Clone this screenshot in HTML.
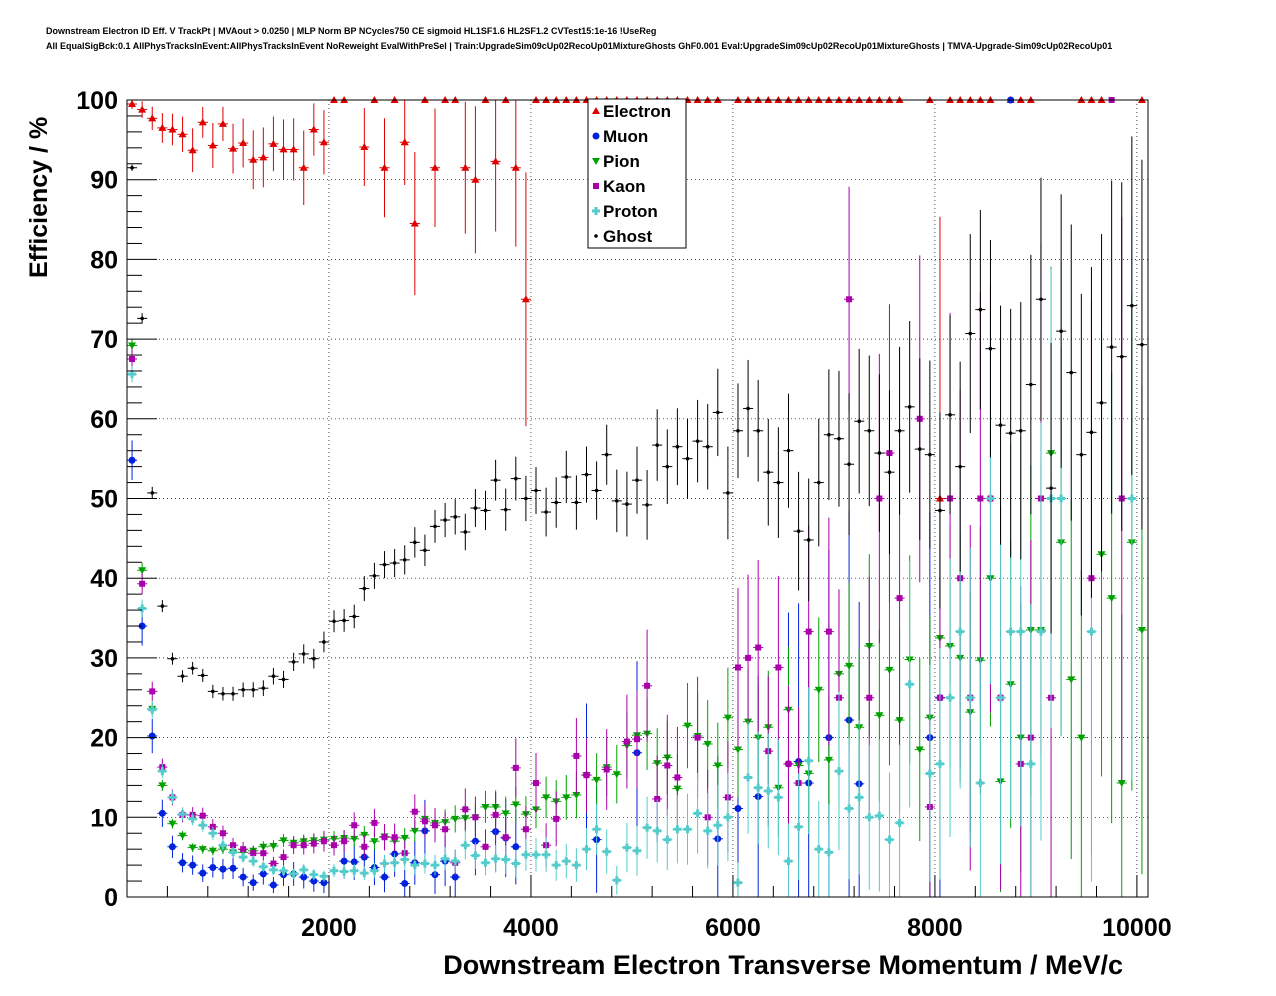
<!DOCTYPE html>
<html><head><meta charset="utf-8"><style>
html,body{margin:0;padding:0;background:#fff}
svg{display:block;font-family:"Liberation Sans",Arial,sans-serif}
</style></head><body>
<svg id="chart" width="1276" height="996" viewBox="0 0 1276 996" xmlns="http://www.w3.org/2000/svg">
<rect x="0" y="0" width="1276" height="996" fill="#fff"/>
<text x="46" y="34" font-size="9" font-weight="bold">Downstream Electron ID Eff. V TrackPt | MVAout &gt; 0.0250 | MLP Norm BP NCycles750 CE sigmoid HL1SF1.6 HL2SF1.2 CVTest15:1e-16 !UseReg</text>
<text x="46" y="49" font-size="9" font-weight="bold">All EqualSigBck:0.1 AllPhysTracksInEvent:AllPhysTracksInEvent NoReweight EvalWithPreSel | Train:UpgradeSim09cUp02RecoUp01MixtureGhosts GhF0.001 Eval:UpgradeSim09cUp02RecoUp01MixtureGhosts | TMVA-Upgrade-Sim09cUp02RecoUp01</text>
<g id="grid"></g>
<g id="marks"></g>
<rect x="127" y="100" width="1021" height="797" fill="none" stroke="#000" stroke-width="1"/>
<g id="axes"></g>
<text transform="translate(47,278) rotate(-90)" font-size="25" font-weight="bold" text-anchor="start">Efficiency / %</text>
<text x="1123" y="974" font-size="27" font-weight="bold" text-anchor="end">Downstream Electron Transverse Momentum / MeV/c</text>
<g id="legend"></g>
</svg>
<script>
const N=null;
const xTicks=[2000,4000,6000,8000,10000];
const yTicks=[0,10,20,30,40,50,60,70,80,90,100];
const seriesNames=["Electron","Muon","Pion","Kaon","Proton","Ghost"];
const electron=[99.5,98.8,97.7,96.5,96.3,95.7,93.7,97.2,94.3,97.0,93.9,94.6,92.5,92.8,94.5,93.8,93.8,91.5,96.3,94.7,100,100,N,94.1,100,91.5,100,94.7,84.5,100,91.5,100,100,91.5,90,100,92.3,100,91.5,75,100,100,100,100,100,100,100,100,100,100,100,100,100,100,100,100,100,100,100,N,100,100,100,100,100,100,100,100,100,100,100,100,100,100,100,100,100,N,N,100,50,100,100,100,100,100,N,100,100,100,N,N,N,N,100,100,100,N,N,N,100];
const muon=[54.8,34.0,20.2,10.5,6.3,4.3,4.0,3.0,3.7,3.5,3.6,2.5,1.8,2.9,1.5,2.8,2.9,2.5,2.0,1.8,N,4.5,4.4,5.0,3.7,2.5,5.4,1.7,4.3,8.3,2.8,4.5,2.5,N,7.0,N,8.2,7.4,6.3,N,N,N,N,N,N,15.3,7.2,N,N,N,18.1,N,N,N,N,N,N,N,7.3,N,11.1,N,12.6,N,N,16.7,17.0,14.3,N,20.0,N,22.2,14.2,N,N,N,N,N,N,20.0,25.0,N,N,N,N,N,N,100,N,N,N,N,N,N,N,N,N,N,N,N,N];
const pion=[69.2,41.0,23.6,14.0,9.2,7.7,6.2,6.0,5.8,6.0,5.6,5.6,5.8,6.3,6.4,7.1,6.8,7.0,7.1,7.2,7.3,7.4,7.3,7.8,7.0,7.6,7.0,7.4,8.3,9.8,9.3,9.4,9.8,9.9,10.0,11.3,11.3,10.5,11.6,10.4,11.0,12.5,12.0,12.5,12.8,15.3,14.7,16.3,15.4,19.0,20.3,20.5,16.8,17.5,13.6,21.5,20.2,19.2,16.5,22.5,18.5,22.0,20.0,21.3,13.7,23.5,16.5,15.5,26.0,17.2,28.0,29.0,21.3,31.5,22.8,28.5,22.2,29.8,18.5,22.5,32.5,31.5,30.0,23.2,29.7,40.0,14.5,26.7,20.0,33.5,33.5,55.7,44.5,27.3,20.0,N,43.0,37.5,14.3,44.5,33.5];
const kaon=[67.5,39.3,25.8,16.3,12.5,10.3,10.3,10.2,8.8,8.0,6.5,6.0,5.5,5.5,4.2,5.0,6.5,6.5,6.7,7.0,6.5,7.0,9.0,6.3,9.3,7.5,7.5,5.5,10.7,9.5,9.0,8.5,4.3,11.0,10.0,6.3,10.3,7.5,16.2,8.5,14.3,6.5,9.8,N,17.7,15.3,N,16.0,N,19.5,19.8,26.5,12.3,16.5,15.0,N,20.0,10.0,N,12.5,28.8,30.0,31.3,18.3,28.8,16.7,14.3,33.3,N,33.3,25.0,75.0,N,25.0,50.0,55.7,37.5,N,60.0,11.3,25.0,50.0,40.0,25.0,50.0,50.0,25.0,N,16.7,20.0,50.0,25.0,N,N,N,40.0,N,100,50.0,N,N];
const proton=[65.6,36.2,23.5,15.8,12.5,10.4,9.8,9.0,8.0,6.5,5.6,5.0,4.5,3.8,3.4,3.3,2.9,3.4,2.8,2.6,3.3,3.2,3.3,3.0,3.3,4.2,4.3,4.7,4.0,4.2,4.0,4.8,4.5,6.5,5.2,4.3,4.8,4.7,4.2,5.3,5.3,5.3,4.0,4.5,4.0,6.0,8.5,5.7,2.1,6.2,5.8,8.7,8.3,7.2,8.5,8.5,10.5,8.3,9.0,10.0,1.8,15.0,13.7,13.3,12.5,4.5,8.8,17.1,6.0,5.6,15.8,11.1,12.5,10.0,10.2,7.2,9.3,26.7,N,15.5,16.7,25.0,33.3,25.0,14.3,50.0,25.0,33.3,33.3,16.7,33.3,50.0,50.0,N,N,33.3,N,N,N,50.0,N];
const ghost=[91.5,72.6,50.7,36.5,29.9,27.7,28.7,27.8,25.8,25.5,25.5,26.0,26.0,26.2,27.7,27.3,29.5,30.5,29.9,32.0,34.6,34.7,35.2,38.7,40.3,41.7,41.9,42.3,44.5,43.5,46.5,47.3,47.7,45.8,48.8,48.5,52.3,48.6,52.5,50.0,51.0,48.3,49.5,52.7,49.5,53.0,51.0,55.5,49.7,49.3,52.3,49.2,56.7,54.0,56.5,55.0,57.2,56.5,60.8,50.7,58.5,61.3,58.5,53.3,52.0,56.0,45.9,44.8,52.0,58.0,57.5,54.3,59.7,58.5,55.7,53.3,58.5,61.5,56.2,55.5,48.5,60.5,54.0,70.7,73.7,68.8,59.2,58.2,58.5,64.3,75.0,51.3,71.0,65.8,55.5,58.3,62.0,69.0,67.8,74.2,69.3];
const seriesData=[electron,muon,pion,kaon,proton,ghost];
const colors=["#e00000","#0022dd","#00a000","#aa00aa","#55cccc","#000000"];
const shapes=["tri","circ","dtri","sq","cross","dot"];
const nBase=[120,400,3000,1500,2000,5000];
const binW=100;

const X0=127,X1=1148,Y0=897,Y1=100,XMAX=10110;
const sx=v=>X0+(v/XMAX)*(X1-X0);
const sy=v=>Y0-(v/100)*(Y0-Y1);
const NS="http://www.w3.org/2000/svg";
function mk(tag,attrs,parent){const e=document.createElementNS(NS,tag);for(const k in attrs)e.setAttribute(k,attrs[k]);parent.appendChild(e);return e;}
const grid=document.getElementById('grid'),axes=document.getElementById('axes'),marks=document.getElementById('marks'),legend=document.getElementById('legend');

xTicks.forEach(t=>{
  const g=mk('line',{x1:sx(t),x2:sx(t),y1:Y0,y2:Y1,stroke:'#000','stroke-width':0.7,'stroke-dasharray':'1,3'},grid);
  
  
  const l=mk('text',{x:sx(t),y:936,'font-size':25,'font-weight':'bold','text-anchor':'middle'},axes);
  l.textContent=t;
  
  
});
for(let v=0;v<=XMAX;v+=400){const h=(v%2000===0)?22:11;mk('line',{x1:sx(v),x2:sx(v),y1:Y0,y2:Y0-h,stroke:'#000'},axes);}
yTicks.forEach(t=>{
  if(t>0&&t<100){const g=mk('line',{x1:X0,x2:X1,y1:sy(t),y2:sy(t),stroke:'#000','stroke-width':0.7,'stroke-dasharray':'1,3'},grid);
  
  }
  const l=mk('text',{x:118,y:sy(t)+9,'font-size':25,'font-weight':'bold','text-anchor':'end'},axes);
  l.textContent=t;
  
  
});
for(let v=0;v<=100;v+=2){const h=(v%10===0)?30:15;mk('line',{x1:X0,x2:X0+h,y1:sy(v),y2:sy(v),stroke:'#000'},axes);}

function marker(shape,cx,cy,c,parent){
  if(shape==='tri')return mk('polygon',{points:`${cx},${cy-4} ${cx-4},${cy+3} ${cx+4},${cy+3}`,fill:c},parent);
  if(shape==='dtri')return mk('polygon',{points:`${cx},${cy+4} ${cx-4},${cy-3} ${cx+4},${cy-3}`,fill:c},parent);
  if(shape==='circ')return mk('circle',{cx:cx,cy:cy,r:3.5,fill:c},parent);
  if(shape==='sq')return mk('rect',{x:cx-3,y:cy-3,width:6,height:6,fill:c},parent);
  if(shape==='cross')return mk('path',{d:`M${cx-4} ${cy-1.5}h8v3h-8zM${cx-1.5} ${cy-4}h3v8h-3z`,fill:c},parent);
  return mk('circle',{cx:cx,cy:cy,r:1.8,fill:c},parent);
}
seriesData.forEach((arr,s)=>{
  const g=mk('g',{},marks);
  
  
  arr.forEach((v,i)=>{
    if(v===null)return;
    const xc=(i+0.5)*binW;
    const n=Math.max(2,nBase[s]*Math.exp(-i/14));
    const err=Math.min(40,100*Math.sqrt(Math.max(0,v/100*(1-v/100))/n));
    const c=colors[s];
    mk('line',{x1:sx(xc-binW/2),x2:sx(xc+binW/2),y1:sy(v),y2:sy(v),stroke:c,'stroke-width':1},g);
    if(err>0)mk('line',{x1:sx(xc),x2:sx(xc),y1:sy(Math.max(0,v-err)),y2:sy(Math.min(100,v+err)),stroke:c,'stroke-width':1},g);
    const m=marker(shapes[s],sx(xc),sy(v),c,g);
    
    
  });
});
const lb=mk('rect',{x:588,y:99,width:98,height:149,fill:'#fff',stroke:'#000'},legend);


seriesNames.forEach((nm,s)=>{
  const y=111+25*s;
  const g=mk('g',{},legend);
  
  
  marker(shapes[s],596,y,colors[s],g);
  const t=mk('text',{x:603,y:y+6,'font-size':17,'font-weight':'bold'},g);
  t.textContent=nm;
});
</script>
</body></html>
